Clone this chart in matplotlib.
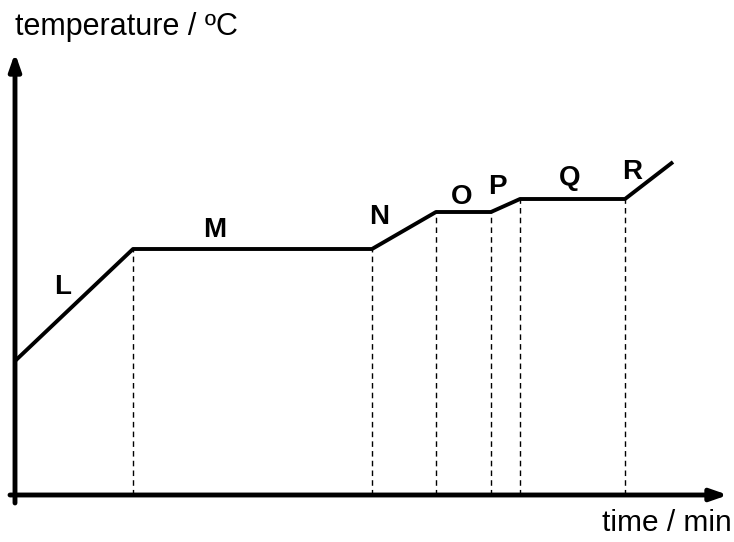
import matplotlib.pyplot as plt

# heating curve (arbitrary units)
time = [0, 11.8, 35.7, 42.1, 47.6, 50.5, 61.0, 65.8]
temp = [13.4, 24.6, 24.6, 28.3, 28.3, 29.6, 29.6, 33.3]

labels = ['L', 'M', 'N', 'O', 'P', 'Q', 'R']
label_x = [4.8, 20.0, 36.4, 44.7, 48.2, 55.5, 61.7]
label_y = [20.8, 26.5, 27.8, 29.8, 30.8, 31.7, 32.3]

plt.rcParams['font.family'] = ['Liberation Sans', 'DejaVu Sans']

fig = plt.figure(figsize=(7.34, 5.42), dpi=100)
ax = fig.add_axes([0, 0, 1, 1])
ax.set_xlim(-1.5, 71.9)
ax.set_ylim(-4.7, 49.5)
ax.axis('off')

# axes with arrow heads
arrow = dict(arrowstyle='-|>,head_length=1.0,head_width=0.35',
             lw=3.5, color='black', shrinkA=0, shrinkB=0)
ax.annotate('', xy=(0, 44.2), xytext=(0, -0.8), arrowprops=arrow)
ax.annotate('', xy=(71.3, 0), xytext=(-0.5, 0), arrowprops=arrow)

# dashed drop lines at each change of slope
for t, T in zip(time[1:-1], temp[1:-1]):
    ax.plot([t, t], [0, T], color='black', lw=1, dashes=(4, 3))

ax.plot(time, temp, color='black', lw=2.8, solid_capstyle='butt')

for lab, x, y in zip(labels, label_x, label_y):
    ax.text(x, y, lab, fontsize=20, fontweight='bold', ha='center', va='center')

ax.text(0.0, 46.8, 'temperature / ºC', fontsize=22, ha='left', va='center')
ax.text(71.7, -2.8, 'time / min', fontsize=21.5, ha='right', va='center')

plt.savefig('out.png', dpi=100)
